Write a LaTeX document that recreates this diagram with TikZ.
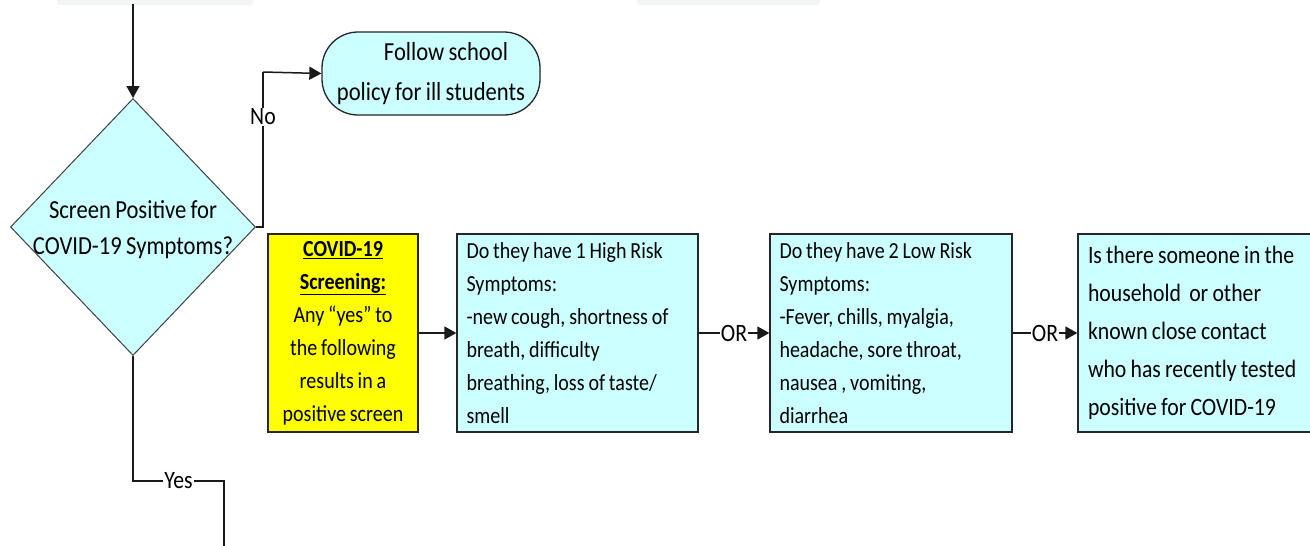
\documentclass[tikz,border=0pt]{standalone}
\usepackage{fontspec}
\setmainfont{Carlito}[FakeStretch=0.87,WordSpace=0.85]
\usetikzlibrary{shapes.geometric,arrows.meta}
\definecolor{boxcyan}{HTML}{CCFFFF}
\definecolor{boxyellow}{HTML}{FFFF00}
\definecolor{faint}{HTML}{F3F4F4}
\begin{document}
\begin{tikzpicture}[x=1pt,y=-1pt,
  conn/.style={draw=black!90,line width=1.5pt},
  arr/.style={conn,-{Triangle[length=12pt,width=13pt]}},
  frame/.style={draw=black!85,line width=1.3pt},
  box/.style={frame,fill=boxcyan,minimum height=198pt,inner xsep=9pt,inner ysep=0pt,
    text width=#1,align=flush left,font=\fontsize{23}{33}\selectfont},
  lbl/.style={fill=white,inner sep=1pt,font=\fontsize{25}{26}\selectfont}]
\clip (0,0) rectangle (1310,546);
\fill[white] (0,0) rectangle (1310,546);
% faint remnants at top
\fill[faint,rounded corners=3pt] (57,-10) rectangle (253,5);
\fill[faint,rounded corners=3pt] (637,-10) rectangle (820,5);

% decision diamond
\node[diamond,frame,fill=boxcyan,minimum width=245pt,minimum height=257pt,inner sep=0pt,draw=black!75,line width=1pt] (dia) at (133,227) {};
\node[align=center,font=\fontsize{26}{36}\selectfont] (diatext) at (133,230) {Screen Positive for\\COVID-19 Symptoms?};

\coordinate (start) at (133,4);
\draw[arr] (start) -- (dia.north);

% follow policy
\node[frame,fill=boxcyan,rounded corners=36pt,minimum width=218pt,minimum height=83pt,inner sep=0pt,
  align=center,font=\fontsize{26}{40}\selectfont] (follow) at (431,73.5)
  {\hspace*{30pt}Follow school\\policy for ill students};
\coordinate (nocorner) at (263,72);
\draw[conn] (dia.east) -- (dia.east -| nocorner) -- node[lbl,pos=0.71]{No} (nocorner);
\draw[arr] (nocorner) -- (follow.west);

% screening boxes
\node[frame,fill=boxyellow,minimum width=150pt,minimum height=198pt,inner sep=0pt,text width=146pt,
  align=flush center,font=\fontsize{23}{33}\selectfont] (yel) at (343,333)
  {\textbf{\underline{COVID-19}}\\\textbf{\underline{Screening:}}\\Any “yes” to\\the following\\results in a\\positive screen};

\node[box=222pt,minimum width=241pt] (b1) at (577.5,333)
  {Do they have 1 High Risk\\Symptoms:\\-new cough, shortness of\\breath, difficulty\\breathing, loss of taste/\\smell};

\node[box=223pt,minimum width=242pt] (b2) at (891,333)
  {Do they have 2 Low Risk\\Symptoms:\\-Fever, chills, myalgia,\\headache, sore throat,\\nausea , vomiting,\\diarrhea};

\node[box=232pt,minimum width=252pt,font=\fontsize{25}{38}\selectfont] (b3) at (1204,333)
  {Is there someone in the\\household \ or other\\known close contact\\who has recently tested\\positive for COVID-19};

\draw[arr] (yel.east) -- (b1.west);
\draw[arr] (b1.east) -- node[lbl]{OR} (b2.west);
\draw[arr] (b2.east) -- node[lbl]{OR} (b3.west);

% yes branch
\coordinate (yescorner) at (224,481);
\coordinate (yesend) at (224,560);
\draw[conn] (dia.south) -- (dia.south |- yescorner) -- node[lbl]{Yes} (yescorner) -- (yesend);
\end{tikzpicture}
\end{document}
